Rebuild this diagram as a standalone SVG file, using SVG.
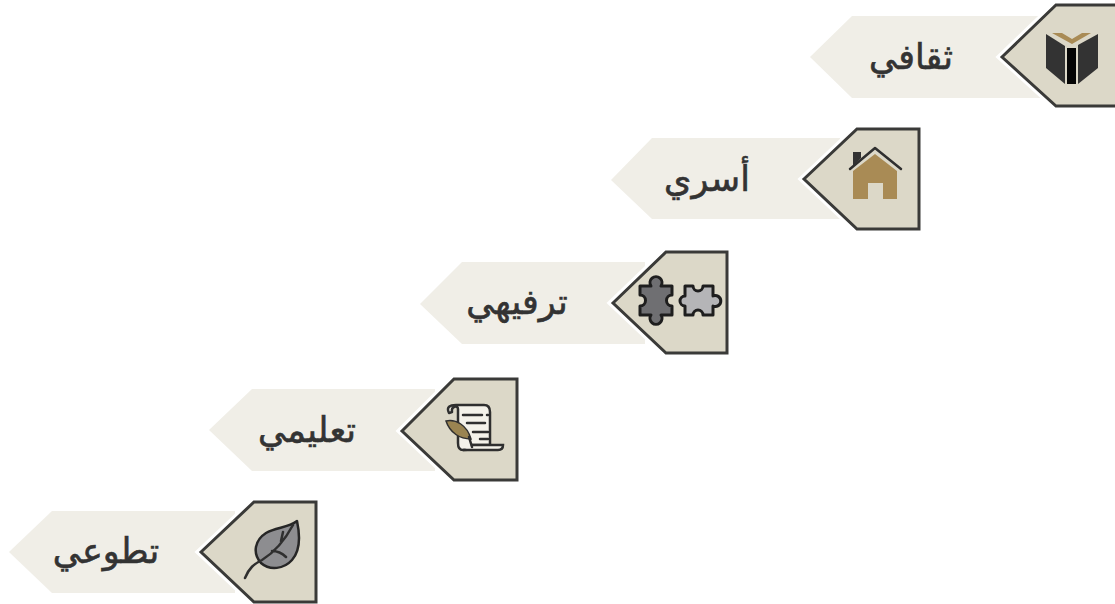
<svg xmlns="http://www.w3.org/2000/svg" width="1115" height="604" viewBox="0 0 1115 604">
<style>
.band{fill:#f0eee7}
.halo{fill:none;stroke:#fff;stroke-width:9;stroke-linejoin:miter}
.tag{fill:#dcd8c8;stroke:#3a3a38;stroke-width:3;stroke-linejoin:miter}
.lbl{font-family:"DejaVu Sans",sans-serif;font-size:35px;fill:#333;stroke:#333;stroke-width:.6;text-anchor:middle;direction:rtl}
.ink{fill:#333}
.gold{fill:#a98b55}
.line{fill:none;stroke:#2f2f2f;stroke-width:2.500;stroke-linecap:round;stroke-linejoin:round}
.piece{stroke:#1e1e1e;stroke-width:3;stroke-linejoin:round}
</style>
<g id="node-thaqafi">
<polygon class="band" points="810,57 852,16 1040,16 1040,98 852,98"/>
<polygon class="halo" points="1002,57 1056,5 1120,5 1120,106 1056,106"/>
<polygon class="tag" points="1002,57 1056,5 1120,5 1120,106 1056,106"/>
<polygon class="ink" points="1046,34 1065,46 1065,84 1046,68"/>
<polygon class="ink" points="1098,34 1078,45 1078,84 1098,68"/>
<rect x="1067" y="48" width="9" height="36" fill="#050505"/>
<polygon class="gold" points="1052,33 1062,33 1072,39 1082,33 1091,33 1072,44"/>
<text class="lbl" x="911" y="69">ثقافي</text>
</g>
<g id="node-usari">
<polygon class="band" points="611,180 652,138 840,138 840,219 652,219"/>
<polygon class="halo" points="804,179 857,129 919,129 919,229 857,229"/>
<polygon class="tag" points="804,179 857,129 919,129 919,229 857,229"/>
<polygon class="ink" points="853,152 861,152 861,158 853,166"/>
<path class="gold" d="M853,171 L875,154 L897,171 V199 H883 V183 H868 V199 H853 Z"/>
<polyline class="line" points="850,169 875,148 901,169"/>
<text class="lbl" x="707" y="191">أسري</text>
</g>
<g id="node-tarfihi">
<polygon class="band" points="420,304 462,262 645,262 645,344 462,344"/>
<polygon class="halo" points="613,303 666,252 727,252 727,353 666,353"/>
<polygon class="tag" points="613,303 666,252 727,252 727,353 666,353"/>
<path class="piece" d="M640,286 H651 A6,6 0 1 1 661,286 H672 V295 A5,5 0 0 0 672,306 V315 H661 A6,6 0 1 1 651,315 H640 V306 A5,5 0 0 0 640,295 Z" fill="#6f6f72"/>
<path class="piece" d="M685,286 H693 A5,5 0 1 0 703,286 H713 V296 A5.500,5.500 0 1 1 713,306 V315 H703 A5,5 0 1 0 693,315 H685 V306 A5,5 0 1 1 685,296 Z" fill="#b5b5b7"/>
<text class="lbl" x="517" y="314">ترفيهي</text>
</g>
<g id="node-taalimi">
<polygon class="band" points="209,430 252,389 435,389 435,471 252,471"/>
<polygon class="halo" points="402,431 454,379 517,379 517,480 454,480"/>
<polygon class="tag" points="402,431 454,379 517,379 517,480 454,480"/>
<path d="M449,413 C446,407 450,405 456,405 H484 C488,405 490,408 490,412 V445 H472 C473,449 469,450 463,450 C459,450 458,447 458,443 V409 C458,405 451,406 452,412 Z" fill="#f4f2ea" stroke="#2f2f2f" stroke-width="2.500" stroke-linejoin="round"/>
<path d="M472,445 H503 C503,449 501,450 498,450 H463" fill="#f4f2ea" stroke="#2f2f2f" stroke-width="2.500"/>
<path class="line" d="M463,415 H482 M487,415 H488 M467,423 H485 M473,432 H488 M480,439 H488"/>
<path d="M446,421 C456,419 467,425 471,439 C460,439 450,433 446,421 Z" fill="#9a8451" stroke="#2f2f2f" stroke-width="1.500"/>
<path class="line" d="M469,437 L472,447"/>
<text class="lbl" x="307" y="442">تعليمي</text>
</g>
<g id="node-tatawi">
<polygon class="band" points="9,552 52,511 235,511 235,593 52,593"/>
<polygon class="halo" points="201,552 254,502 316,502 316,602 254,602"/>
<polygon class="tag" points="201,552 254,502 316,502 316,602 254,602"/>
<path d="M297,521 C300,535 301,550 292,560 C284,569 270,571 261,563 C252,553 255,540 266,533 C276,527 288,528 297,521 Z" fill="#8d8d90" stroke="#262626" stroke-width="2.500" stroke-linejoin="round"/>
<path class="line" d="M245,578 C249,568 254,564 262,560 C275,552 286,538 293,525 M281,541 L283,532 M272,551 C278,551 282,553 286,557"/>
<text class="lbl" x="106" y="563">تطوعي</text>
</g>
</svg>
